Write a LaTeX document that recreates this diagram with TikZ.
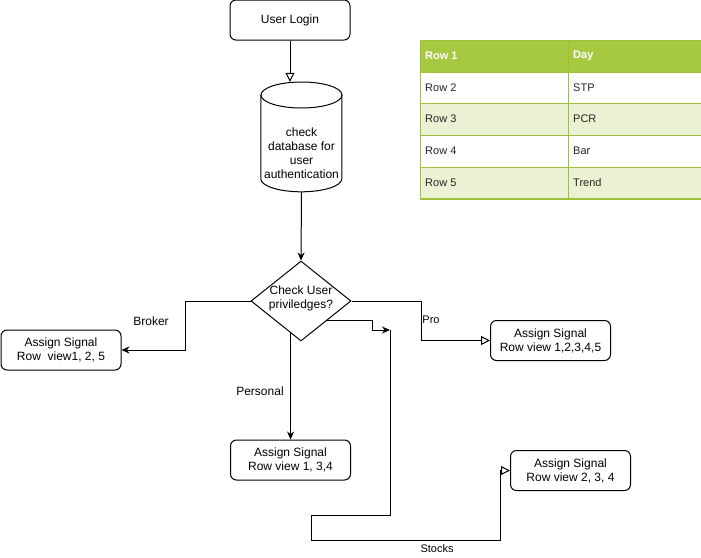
\documentclass[tikz,border=0pt]{standalone}
\usepackage{fontspec}
\setmainfont{Liberation Sans}
\usetikzlibrary{shapes.geometric,arrows.meta}
\definecolor{tblhead}{HTML}{A7C942}
\definecolor{tblalt}{HTML}{EAF2D3}
\definecolor{tblline}{HTML}{9DC13A}
\begin{document}
\begin{tikzpicture}[x=1pt,y=-1pt,
  line/.style={draw=black, line width=1pt},
  box/.style={draw=black, line width=1pt, rounded corners=6pt, minimum width=120pt,
    minimum height=40pt, inner sep=0pt, align=center, font=\fontsize{12}{14}\selectfont},
  solidtip/.style={-{Stealth[length=8pt,width=7pt]}},
  opentip/.style={-{Triangle[open,length=9pt,width=9pt]}},
  lbl/.style={font=\fontsize{12}{14}\selectfont, inner sep=0pt},
  smalllbl/.style={font=\fontsize{11}{13}\selectfont, inner sep=0pt},
  cell/.style={font=\fontsize{11}{13}\selectfont, anchor=west, inner sep=0pt, text=black!85},
  headcell/.style={cell, font=\fontsize{11}{13}\selectfont\bfseries, text=white}
]
\useasboundingbox (0,0) rectangle (701,557);

% login box
\node[box] (login) at (290,20) {User Login};

% database cylinder
\node[minimum width=81pt, minimum height=110pt, inner sep=0pt] (db) at (301.5,137) {};
\draw[line] (db.north west) ++(0,13) -- ++(0,84)
  arc[start angle=180, end angle=360, x radius=40.5pt, y radius=13pt] -- ++(0,-84);
\draw[line] (301.5,95) ellipse[x radius=40.5pt, y radius=13pt];
\node[align=center, font=\fontsize{12}{14}\selectfont, inner sep=0pt] (dbtext) at (301.5,153)
  {check\\database for\\user\\authentication};

% decision diamond
\node[diamond, draw=black, line width=1pt, minimum width=100pt, minimum height=80pt,
  inner sep=0pt] (dec) at (301,301) {};
\node[align=center, font=\fontsize{12}{14}\selectfont, inner sep=0pt] (dectext) at (301,298)
  {Check User\\priviledges?};

% result boxes
\node[box] (broker) at (61,350) {Assign Signal\\Row\ \ view1, 2, 5};
\node[box] (pro) at (550.5,340.5) {Assign Signal\\Row view 1,2,3,4,5};
\node[box] (pers) at (290.5,460) {Assign Signal\\Row view 1, 3,4};
\node[box] (stocks) at (570.5,470.5) {Assign Signal\\Row view 2, 3, 4};

% connectors
\draw[line,opentip] (login.south) -- (login.south |- db.north);
\draw[line,solidtip] (db.south) -- (dec.north);
\draw[line,solidtip] (dec.west) -- ++(-65,0) |- (broker.east);
\node[lbl] (lbroker) at (151,321) {Broker};
\draw[line,solidtip] (dec.252.6) -- (dec.252.6 |- pers.north);
\node[lbl] (lpers) at (260,391) {Personal};
\draw[line,opentip] (dec.east) -- ++(70,0) |- (pro.west);
\node[smalllbl] (lpro) at (431,320) {Pro};
\coordinate (j) at (390,330);
\draw[line,solidtip] (dec.-38.4) -- ++(46,0) |- (j);
\draw[line,opentip] (j) -- (390,515) -- (311,515) -- (311,540) -- (500,540) |- (stocks.west);
\node[smalllbl] (lstocks) at (437,549) {Stocks};

% table
\fill[tblhead] (420,40) rectangle (702,72);
\fill[white] (420,72) rectangle (702,103);
\fill[tblalt] (420,103) rectangle (702,135);
\fill[white] (420,135) rectangle (702,167);
\fill[tblalt] (420,167) rectangle (702,199);
\foreach \yy in {40,72,103,135,167} \draw[tblline, line width=0.8pt] (420,\yy) -- (702,\yy);
\draw[tblline, line width=1.5pt] (420,199) -- (702,199);
\draw[tblline, line width=0.8pt] (420,40) -- (420,199);
\draw[tblline, line width=0.8pt] (568,40) -- (568,199);
\node[headcell] (h1) at (425,56) {Row 1};
\node[headcell] (h2) at (573,56) {Day};
\node[cell] (r2a) at (425,87.5) {Row 2};
\node[cell] (r2b) at (573,87.5) {STP};
\node[cell] (r3a) at (425,119) {Row 3};
\node[cell] (r3b) at (573,119) {PCR};
\node[cell] (r4a) at (425,151) {Row 4};
\node[cell] (r4b) at (573,151) {Bar};
\node[cell] (r5a) at (425,183) {Row 5};
\node[cell] (r5b) at (573,183) {Trend};
\end{tikzpicture}
\end{document}
